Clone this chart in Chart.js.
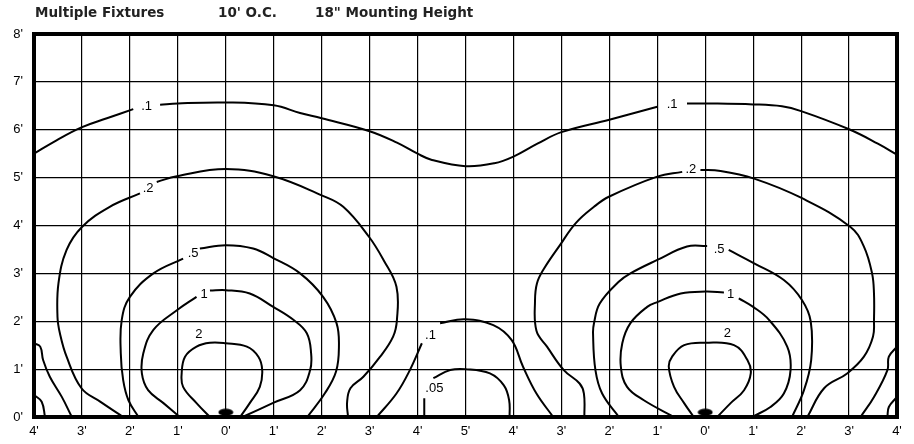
<!DOCTYPE html>
<html>
<head>
<meta charset="utf-8">
<script src="https://cdn.jsdelivr.net/npm/chart.js@4/dist/chart.umd.min.js"></script>
<style>
html,body{margin:0;padding:0;background:#fff;}
#wrap{width:914px;height:444px;}
</style>
</head>
<body>
<div id="wrap"><canvas id="c" width="914" height="444"></canvas></div>
<script>
// ---- tick labels (position index 0..18 along the 18-ft span) ----
const xTickLabels = ["4'","3'","2'","1'","0'","1'","2'","3'","4'","5'","4'","3'","2'","1'","0'","1'","2'","3'","4'"];
const yTickLabels = ["0'","1'","2'","3'","4'","5'","6'","7'","8'"];
const titleParts = ["Multiple Fixtures", "10' O.C.", "18\" Mounting Height"];

// ---- fixtures (x in ft along span, y in ft) ----
const fixtureX = [4, 14];
const fixtureY = [0.1, 0.1];

// ---- isofootcandle contours: [x, y] in ft, null = gap for label ----
const c01Top = [[0,5.5],[0.47,5.78],[0.99,6.05],[1.52,6.24],[2.07,6.43],null,[2.63,6.52],[3,6.55],[4,6.57],[5,6.51],[5.55,6.35],[6,6.24],[7,5.97],[7.57,5.73],[8,5.5],[8.3,5.37],[9,5.24],[9.6,5.3],[10,5.44],[10.5,5.71],[11,5.95],[12,6.21],[13.0,6.48],null,[13.62,6.55],[14,6.55],[15,6.53],[15.6,6.49],[16,6.39],[17,6.01],[17.6,5.71],[18,5.48]];
const c01Mid = [[7.15,0],[7.56,0.49],[7.84,0.98],[8.09,1.54],null,[8.47,1.96],[8.99,2.04],[9.58,1.92],[9.96,1.61],[10.2,1.05],[10.48,0.49],[10.83,0]];
const c005Mid = [[8.14,0],[8.14,0.39],null,[8.33,0.81],[8.68,0.98],[9.0,1.0],[9.51,0.91],[9.8,0.66],[9.91,0.35],[9.92,0]];
const c01LeftEdge = [[0,1.54],[0.13,1.47],[0.19,1.19],[0.33,0.84],[0.58,0.42],[0.79,0]];
const c005LeftEdge = [[0,0.46],[0.16,0.32],[0.23,0]];
const c01RightEdge = [[18,1.47],[17.83,1.26],[17.8,0.98],[17.52,0.42],[17.24,0]];
const c005RightEdge = [[18,0.42],[17.83,0.21],[17.8,0]];

const c02Left = [[1.86,0],[1.38,0.32],[0.99,0.6],[0.68,1.26],[0.54,1.75],[0.49,2.09],[0.51,2.79],[0.68,3.49],[1.0,3.97],[1.58,4.39],[2.21,4.67],null,[2.56,4.91],[2.98,5.03],[4.0,5.18],[4.99,5.03],[6.0,4.63],[6.45,4.39],[6.99,3.76],[7.29,3.28],[7.56,2.72],[7.57,2.03],[7.49,1.68],[7.22,1.26],[6.87,0.84],[6.6,0.6],[6.53,0.3],[6.55,0]];
const c05Left = [[2.18,0],[1.97,0.35],[1.86,0.77],[1.81,1.33],[1.83,2.03],[2.0,2.51],[2.49,3.0],[3.11,3.31],null,[3.46,3.52],[4.0,3.59],[4.57,3.52],[4.99,3.32],[5.55,3.0],[6.03,2.51],[6.31,1.96],[6.36,1.47],[6.3,0.95],[6.07,0.5],[5.7,0]];
const c1Left = [[3.04,0],[2.7,0.29],[2.38,0.56],[2.25,0.91],[2.28,1.33],[2.49,1.82],[2.98,2.23],[3.39,2.51],null,[3.67,2.64],[4.0,2.65],[4.5,2.58],[4.99,2.3],[5.41,2.03],[5.69,1.75],[5.78,1.33],[5.76,0.98],[5.55,0.56],[5.0,0.3],[4.35,0]];
const c2Left = [[3.67,0],[3.39,0.29],[3.11,0.63],[3.08,0.91],[3.15,1.26],[3.39,1.47],[3.67,1.55],[4.0,1.54],[4.44,1.47],[4.68,1.26],[4.76,0.98],[4.71,0.63],[4.5,0.29],[4.3,0]];

const c02Right = [[11.48,0],[11.47,0.49],[11.38,0.7],[11.05,0.98],[10.7,1.47],[10.48,1.8],[10.45,2.44],[10.49,2.79],[10.62,3.07],[10.97,3.59],[11.3,4.05],[11.68,4.39],[11.99,4.6],[13.0,5.02],[13.52,5.12],null,[13.9,5.16],[14.32,5.14],[15.02,4.98],[16.02,4.57],[17.03,3.97],[17.31,3.56],[17.48,3.0],[17.52,2.58],[17.52,2.03],[17.5,1.68],[17.31,1.26],[16.96,0.91],[16.48,0.6],[16.13,0]];
const c05Right = [[12.2,0],[11.85,0.49],[11.71,0.98],[11.66,1.75],[11.68,1.96],[11.8,2.37],[12.19,2.82],[12.44,3.0],[13.0,3.28],[13.62,3.56],[14.04,3.57],null,[14.49,3.49],[15.02,3.21],[15.64,2.86],[16.02,2.44],[16.2,2.0],[16.21,1.19],[16.06,0.56],[15.81,0]];
const c1Right = [[13.35,0],[12.72,0.35],[12.37,0.63],[12.24,1.05],[12.27,1.54],[12.44,1.96],[12.79,2.3],[13.0,2.4],[13.49,2.58],[14.01,2.62],[14.39,2.6],null,[14.7,2.48],[15.0,2.3],[15.33,2.03],[15.71,1.47],[15.78,0.98],[15.64,0.49],[15.36,0.21],[14.98,0]];
const c2Right = [[13.76,0],[13.56,0.29],[13.35,0.63],[13.24,1.05],[13.31,1.26],[13.56,1.5],[14.01,1.55],[14.6,1.5],[14.88,1.19],[14.95,0.91],[14.81,0.56],[14.53,0.29],[14.25,0]];

// ---- contour value labels ----
const labelText = [".1", ".1", ".2", ".2", ".5", ".5", "1", "1", "2", "2", ".1", ".05"];
const labelX    = [2.35, 13.31, 2.38, 13.7, 3.32, 14.29, 3.55, 14.53, 3.44, 14.46, 8.27, 8.35];
const labelY    = [6.49, 6.53, 4.78, 5.17, 3.42, 3.49, 2.56, 2.55, 1.73, 1.75, 1.71, 0.6];

const contours = [c01Top, c01Mid, c005Mid, c01LeftEdge, c005LeftEdge, c01RightEdge, c005RightEdge,
  c02Left, c05Left, c1Left, c2Left, c02Right, c05Right, c1Right, c2Right];

function toPoints(arr){
  const out = [];
  let lastX = 0;
  arr.forEach(p => {
    if (p === null) out.push({x: lastX, y: null});
    else { out.push({x: p[0], y: p[1]}); lastX = p[0]; }
  });
  return out;
}

const FONT = "'Liberation Sans', Arial, sans-serif";
const TITLE_FONT = "bold 13.5px 'DejaVu Sans', sans-serif";

// ellipse marker for fixtures
const marker = document.createElement('canvas');
marker.width = 16; marker.height = 8;
(function(){
  const m = marker.getContext('2d');
  m.fillStyle = '#000';
  m.beginPath();
  m.ellipse(8, 4, 7.5, 3.6, 0, 0, Math.PI*2);
  m.fill();
})();

const datasets = contours.map(c => ({
  data: toPoints(c),
  showLine: true,
  borderColor: '#000',
  borderWidth: 2,
  pointRadius: 0,
  pointHoverRadius: 0,
  tension: 0.4,
  spanGaps: false,
  fill: false
}));
datasets.push({
  data: fixtureX.map((x,i) => ({x: x, y: fixtureY[i]})),
  showLine: false,
  pointStyle: marker,
  pointRadius: 8,
  backgroundColor: '#000',
  borderColor: '#000'
});

const framePlugin = {
  id: 'frame',
  afterDatasetsDraw(chart){
    const {ctx, chartArea: a, scales} = chart;
    ctx.save();
    // contour labels
    ctx.fillStyle = '#000';
    ctx.font = "13px " + FONT;
    ctx.textAlign = 'center';
    ctx.textBaseline = 'middle';
    labelText.forEach((t,i) => {
      ctx.fillText(t, scales.x.getPixelForValue(labelX[i]), scales.y.getPixelForValue(labelY[i]));
    });
    // thick frame
    ctx.strokeStyle = '#000';
    ctx.lineWidth = 4;
    ctx.strokeRect(a.left, a.top, a.right - a.left, a.bottom - a.top);
    // title
    ctx.font = TITLE_FONT;
    ctx.fillStyle = '#222';
    ctx.textAlign = 'left';
    ctx.textBaseline = 'middle';
    ctx.fillText(titleParts[0], 35, 13);
    ctx.fillText(titleParts[1], 218, 13);
    ctx.fillText(titleParts[2], 315, 13);
    ctx.restore();
  }
};

new Chart(document.getElementById('c'), {
  type: 'scatter',
  data: { datasets },
  options: {
    responsive: false,
    devicePixelRatio: 1,
    animation: false,
    layout: { padding: { top: 34, right: 17, left: 0, bottom: 0 } },
    plugins: { legend: { display: false }, tooltip: { enabled: false }, title: { display: false } },
    scales: {
      x: {
        type: 'linear', min: 0, max: 18,
        afterFit(s){ s.height = 27; },
        afterBuildTicks(s){ s.ticks = xTickLabels.map((_, i) => ({value: i})); },
        grid: { color: '#000', lineWidth: 1.2, drawTicks: false },
        border: { display: false },
        ticks: {
          padding: 7, color: '#000', font: { family: FONT, size: 13 },
          maxRotation: 0, autoSkip: false,
          callback: (v) => xTickLabels[Math.round(v)]
        }
      },
      y: {
        type: 'linear', min: 0, max: 8,
        afterFit(s){ s.width = 34; },
        afterBuildTicks(s){ s.ticks = yTickLabels.map((_, i) => ({value: i})); },
        grid: { color: '#000', lineWidth: 1.2, drawTicks: false },
        border: { display: false },
        ticks: {
          padding: 11, color: '#000', font: { family: FONT, size: 13 },
          autoSkip: false,
          callback: (v) => yTickLabels[Math.round(v)]
        }
      }
    }
  },
  plugins: [framePlugin]
});
</script>
</body>
</html>
